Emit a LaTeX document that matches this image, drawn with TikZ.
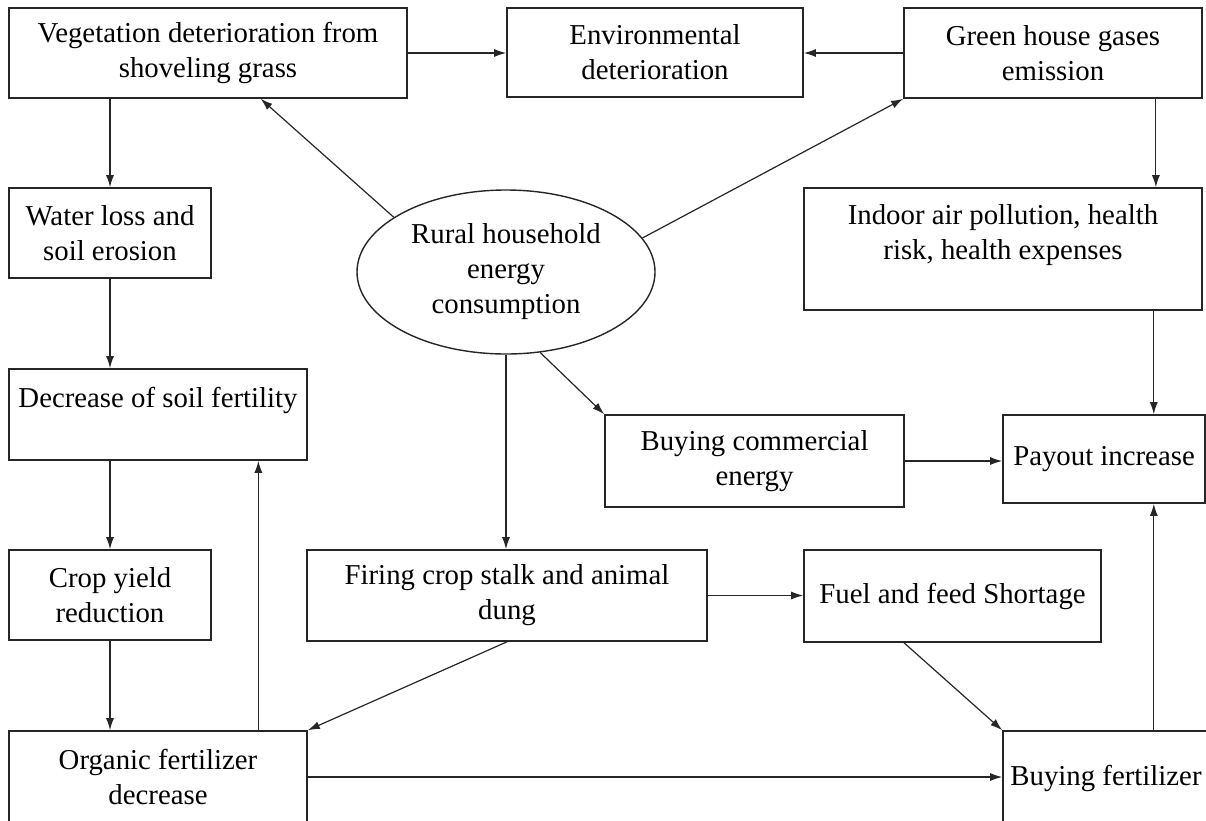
\documentclass[tikz,border=0pt]{standalone}
\usepackage{fontspec}
\setmainfont{Liberation Serif}
\usetikzlibrary{shapes.geometric,arrows.meta}

\begin{document}
\begin{tikzpicture}[x=1pt, y=-1pt,
	every node/.style={font=\fontsize{28.8}{35}\selectfont, align=center, inner sep=2pt},
	box/.style={draw=black!85, line width=1.6pt, rectangle},
	arr/.style={draw=black!85, line width=1.2pt, -{Latex[length=12pt, width=8pt]}}]
\useasboundingbox (0,0) rectangle (1206,820);
\clip (0,0) rectangle (1206,820);

\node[box, minimum width=398pt, minimum height=90pt] (veg) at (208, 53) {Vegetation deterioration from\\shoveling grass};
\node[box, minimum width=296pt, minimum height=89pt] (env) at (655, 52.5) {Environmental\\deterioration};
\node[box, minimum width=298pt, minimum height=90pt] (ghg) at (1053, 53) {Green house gases\\emission};

\node[box, minimum width=202pt, minimum height=90pt] (water) at (110, 233) {Water loss and\\soil erosion};
\node[ellipse, draw=black!85, line width=1.4pt, minimum width=298pt, minimum height=164pt, inner sep=0pt] (rural) at (506, 272) {Rural household\\energy\\consumption};
\node[box, minimum width=398pt, minimum height=122pt] (indoor) at (1003, 249) {Indoor air pollution, health\\risk, health expenses\\~};

\node[box, minimum width=298pt, minimum height=91pt] (soil) at (158, 414.5) {Decrease of soil fertility\\~};
\node[box, minimum width=299pt, minimum height=92pt] (commer) at (754.5, 461) {Buying commercial\\energy};
\node[box, minimum width=202pt, minimum height=88pt] (payout) at (1104, 459) {Payout increase};

\node[box, minimum width=202pt, minimum height=90pt] (crop) at (110, 595) {Crop yield\\reduction};
\node[box, minimum width=400pt, minimum height=91pt] (firing) at (507, 595.5) {Firing crop stalk and animal\\dung};
\node[box, minimum width=297pt, minimum height=92pt] (fuel) at (952.5, 596) {Fuel and feed Shortage};

\node[box, minimum width=298pt, minimum height=92pt] (organic) at (158, 777) {Organic fertilizer\\decrease};
\node[box, minimum width=206pt, minimum height=94pt] (fert) at (1106, 778) {Buying fertilizer};

\draw[arr] (veg.east) -- (veg.east -| env.west);
\draw[arr] (ghg.west) -- (ghg.west -| env.east);

\draw[arr] (rural.154) -- (veg.-41);
\draw[arr] (rural.14) -- (ghg.south west);

\draw[arr] (water |- veg.south) -- (water.north);
\draw[arr] (ghg.-24) -- (ghg.-24 |- indoor.north);

\draw[arr] (water.south) -- (water.south |- soil.north);
\draw[arr] (crop |- soil.south) -- (crop.north);
\draw[arr] (crop.south) -- (crop.south |- organic.north);
\draw[arr] (organic.25) -- (organic.25 |- soil.south);

\draw[arr] (rural.south) -- (rural.south |- firing.north);
\draw[arr] (rural.-67) -- (commer.north west);

\draw[arr] (firing.south) -- (organic.north east);
\draw[arr] (firing.east) -- (firing.east -| fuel.west);

\draw[arr] (commer.east) -- (commer.east -| payout.west);
\draw[arr] (payout.42 |- indoor.south) -- (payout.42);

\draw[arr] (fuel.-136) -- (fert.north west);
\draw[arr] (fert.45) -- (fert.45 |- payout.south);
\draw[arr] (organic.east) -- (organic.east -| fert.west);
\end{tikzpicture}
\end{document}
